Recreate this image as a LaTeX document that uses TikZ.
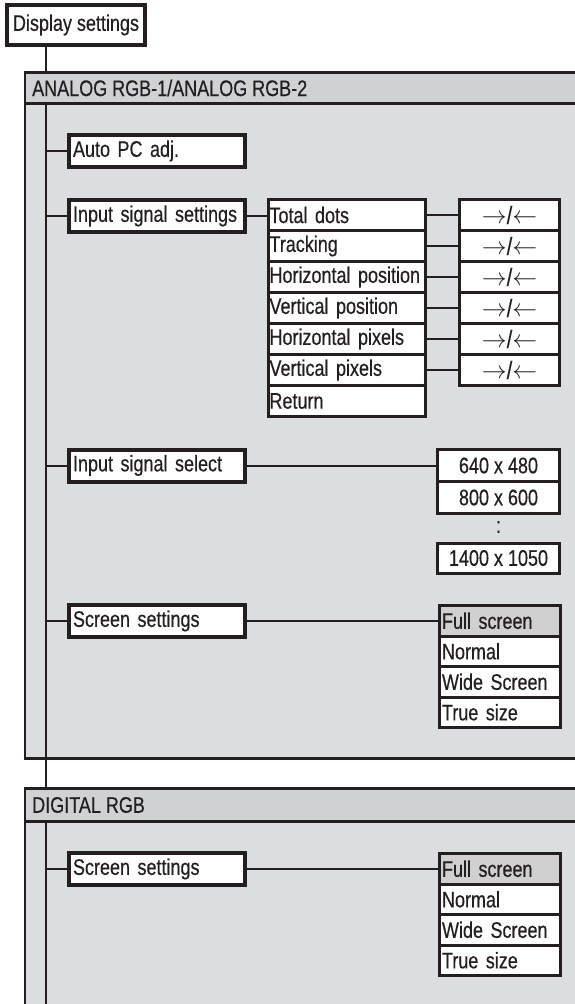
\documentclass[tikz,border=0pt]{standalone}
\usepackage{fontspec}
\setmainfont{Liberation Sans}[FakeStretch=0.8, FakeBold=0.4]
\definecolor{panel}{HTML}{DCDDDF}
\definecolor{head}{HTML}{D0D1D3}
\definecolor{ink}{HTML}{231F20}
\definecolor{fullgray}{HTML}{D0D0D0}
\tikzset{
  txt/.style={font=\fontsize{22.5}{24}\selectfont, text=ink},
  lvl/.style={txt, draw=ink, fill=white, line width=4pt, minimum height=32pt,
    text width=168pt, inner xsep=4pt, inner ysep=0pt, align=left, anchor=west},
  sub/.style={txt, draw=ink, fill=white, line width=3pt, minimum height=31pt,
    text width=154pt, inner xsep=1.5pt, inner ysep=0pt, align=left, anchor=west},
  arr/.style={font=\fontsize{25}{26}\selectfont, text=ink, draw=ink, fill=white,
    line width=3pt, minimum width=100pt, minimum height=31pt, inner sep=0pt},
  res/.style={txt, draw=ink, fill=white, line width=3pt, minimum width=122pt,
    minimum height=32pt, inner sep=0pt},
  opt/.style={txt, draw=ink, fill=white, line width=3pt, minimum height=30.5pt,
    text width=115pt, inner xsep=3pt, inner ysep=0pt, align=left, anchor=west},
  conn/.style={draw=ink, line width=2pt},
  bord/.style={draw=ink, line width=3pt},
}
\begin{document}
\begin{tikzpicture}[x=1pt,y=-1pt]
\useasboundingbox (0,0) rectangle (575,1004);
% panel bodies
\fill[panel] (25,72) rectangle (580,758);
\fill[panel] (25,788) rectangle (580,1010);
% trunk
\node[txt, draw=ink, fill=white, line width=4pt, minimum width=138pt, minimum height=40pt, inner sep=0pt] (disp) at (76,25) {Display settings};
\coordinate (tb) at (46,1010);
\draw[conn] (disp.south -| tb) -- (tb);
% panel headers and borders (over the trunk)
\fill[head] (25,72) rectangle (580,103);
\draw[bord] (25,72) -- (580,72);
\draw[bord] (25,103) -- (580,103);
\draw[bord] (23.5,758) -- (580,758);
\draw[draw=ink, line width=2pt] (25,70.5) -- (25,758);
\fill[head] (25,788) rectangle (580,821);
\draw[bord] (25,788) -- (580,788);
\draw[bord] (25,821) -- (580,821);
\draw[draw=ink, line width=2pt] (25,786.5) -- (25,1010);
\node[txt, anchor=west, inner sep=0pt] (hA) at (32,88) {ANALOG RGB-1/ANALOG RGB-2};
\node[txt, anchor=west, inner sep=0pt] (hD) at (32,805) {DIGITAL RGB};
% level-1 boxes
\node[lvl] (auto) at (67,151) {Auto PC adj.};
\node[lvl] (iss) at (67,216) {Input signal settings};
\node[lvl] (isel) at (67,465.5) {Input signal select};
\node[lvl] (ssa) at (67,621) {Screen settings};
\node[lvl] (ssd) at (67,869) {Screen settings};
\foreach \n in {auto,iss,isel,ssa,ssd} \draw[conn] (\n.west -| tb) -- (\n.west);
% input signal settings children
\node[sub] (s0) at (266.5,215) {Total dots};
\node[sub] (s1) at (266.5,246) {Tracking};
\node[sub] (s2) at (266.5,277) {\mbox{Horizontal position}};
\node[sub] (s3) at (266.5,308) {Vertical position};
\node[sub] (s4) at (266.5,339) {Horizontal pixels};
\node[sub] (s5) at (266.5,370) {Vertical pixels};
\node[sub] (s6) at (266.5,401) {Return};
\draw[conn] (iss.east) -- (iss.east -| s0.west);
\foreach \i/\y in {0/215,1/246,2/277,3/308,4/339,5/370}{
  \node[arr] (a\i) at (509.5,\y) {$\rightarrow$/$\leftarrow$};
  \draw[conn] (s\i.east) -- (a\i.west);
}
% resolutions
\node[res] (r1) at (498.5,465.5) {640 x 480};
\node[res] (r2) at (498.5,497.5) {800 x 600};
\node[txt, inner sep=0pt] (rd) at (498.5,527) {:};
\node[res, minimum height=30pt] (r3) at (498.5,558) {1400 x 1050};
\draw[conn] (isel.east) -- (r1.west);
% screen options analog
\node[opt, fill=fullgray] (fa) at (437.5,620.75) {Full screen};
\node[opt] (na) at (437.5,651.25) {Normal};
\node[opt] (wa) at (437.5,681.75) {Wide Screen};
\node[opt] (ta) at (437.5,712.25) {True size};
\draw[conn] (ssa.east) -- (ssa.east -| fa.west);
% screen options digital
\node[opt, fill=fullgray] (fd) at (437.5,868.75) {Full screen};
\node[opt] (nd) at (437.5,899.25) {Normal};
\node[opt] (wd) at (437.5,929.75) {Wide Screen};
\node[opt] (td) at (437.5,960.25) {True size};
\draw[conn] (ssd.east) -- (ssd.east -| fd.west);
\end{tikzpicture}
\end{document}
